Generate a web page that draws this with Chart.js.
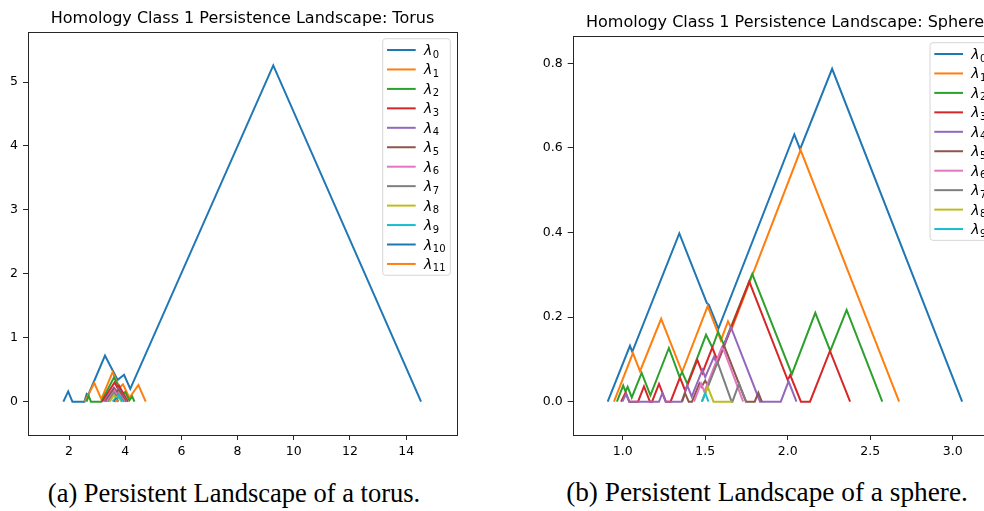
<!DOCTYPE html>
<html>
<head>
<meta charset="utf-8">
<script src="https://cdn.jsdelivr.net/npm/chart.js@4.4.1/dist/chart.umd.min.js"></script>
<style>
  body { margin: 0; width: 984px; height: 511px; overflow: hidden; background: #fff; position: relative; }
  #caixa_toro { position: absolute; left: 0; top: 0; }
  #caixa_esfera { position: absolute; left: 530px; top: 0; }
  .legenda { position: absolute; top: 478px; font-family: 'Liberation Serif', serif; font-size: 26.5px; color: #000; white-space: nowrap; transform: translateX(-50%); }
</style>
</head>
<body>
<div id="caixa_toro"><canvas id="chart_toro" width="470" height="470"></canvas></div>
<div id="caixa_esfera"><canvas id="chart_esfera" width="481" height="470"></canvas></div>
<div class="legenda" style="left:234px">(a) Persistent Landscape of a torus.</div>
<div class="legenda" style="left:767px; font-size:27.3px; top:477px">(b) Persistent Landscape of a sphere.</div>

<script>
// Ticks e limites dos eixos
const toroTicksX = [2, 4, 6, 8, 10, 12, 14];
const toroTicksY = [0, 1, 2, 3, 4, 5];
const toroLimX = [0.54, 15.81];
const toroLimY = [-0.522, 5.783];

const esferaTicksX = [1.0, 1.5, 2.0, 2.5, 3.0];
const esferaTicksY = [0.0, 0.2, 0.4, 0.6, 0.8];
const esferaLimX = [0.697, 3.27];
const esferaLimY = [-0.0788, 0.8646];

// Landscapes do toro: pares [x, y]
const toroL0 = [[1.8,0],[1.97,0.16],[2.12,0],[2.55,0],[2.63,0.12],[2.68,0.1],[3.28,0.72],[3.73,0.34],[3.96,0.42],[4.18,0.2],[9.27,5.26],[14.53,0]];
const toroL1 = [[2.56,0],[2.9,0.29],[3.15,0.04],[3.55,0.46],[3.8,0.22],[3.92,0.27],[4.15,0.06],[4.47,0.26],[4.73,0]];
const toroL2 = [[2.62,0],[2.7,0.09],[2.78,0],[3.15,0],[3.6,0.38],[3.9,0.12],[4.0,0.15],[4.15,0.02],[4.25,0.08],[4.33,0]];
const toroL3 = [[3.18,0],[3.62,0.3],[3.72,0.22],[3.78,0.25],[4.1,0]];
const toroL4 = [[3.25,0],[3.6,0.22],[3.7,0.16],[3.75,0.2],[4.05,0]];
const toroL5 = [[3.3,0],[3.6,0.2],[3.7,0.14],[3.77,0.18],[4.02,0]];
const toroL6 = [[3.35,0],[3.62,0.17],[3.7,0.1],[3.76,0.14],[3.98,0]];
const toroL7 = [[3.4,0],[3.6,0.14],[3.68,0.08],[3.75,0.12],[3.95,0]];
const toroL8 = [[3.45,0],[3.6,0.1],[3.67,0.05],[3.73,0.08],[3.88,0]];
const toroL9 = [[3.55,0],[3.65,0.05],[3.7,0.02],[3.77,0.1],[3.9,0]];
const toroL10 = [[3.6,0],[3.68,0.04],[3.76,0]];
const toroL11 = [[3.64,0],[3.7,0.02],[3.75,0]];

// Landscapes da esfera: pares [x, y]
const esferaL0 = [[0.909,0],[1.044,0.132],[1.058,0.118],[1.343,0.398],[1.51,0.233],[1.522,0.229],[1.58,0.173],[2.04,0.632],[2.075,0.597],[2.269,0.787],[3.057,0]];
const esferaL1 = [[0.947,0],[1.062,0.115],[1.105,0.072],[1.233,0.196],[1.36,0.07],[1.515,0.226],[1.595,0.145],[1.638,0.19],[1.66,0.172],[2.078,0.595],[2.675,0]];
const esferaL2 = [[0.965,0],[1.003,0.038],[1.017,0.024],[1.03,0.035],[1.055,0.01],[1.115,0.068],[1.168,0.015],[1.28,0.127],[1.345,0.058],[1.36,0.07],[1.392,0.042],[1.505,0.158],[1.543,0.128],[1.578,0.165],[1.613,0.135],[1.785,0.302],[2.025,0.065],[2.167,0.21],[2.258,0.12],[2.357,0.217],[2.573,0]];
const esferaL3 = [[0.99,0],[1.018,0.022],[1.04,0],[1.093,0],[1.129,0.036],[1.165,0],[1.178,0],[1.22,0.042],[1.262,0],[1.29,0],[1.347,0.057],[1.379,0.026],[1.452,0.099],[1.483,0.068],[1.543,0.128],[1.577,0.094],[1.767,0.284],[2.0,0.051],[2.015,0.063],[2.08,0],[2.135,0],[2.256,0.12],[2.378,0]];
const esferaL4 = [[0.998,0],[1.02,0.018],[1.04,0],[1.22,0],[1.24,0.02],[1.26,0],[1.357,0],[1.392,0.038],[1.418,0.012],[1.483,0.075],[1.5,0.058],[1.553,0.106],[1.57,0.09],[1.656,0.176],[1.832,0],[1.958,0],[2.005,0.048],[2.053,0]];
const esferaL5 = [[1.36,0],[1.378,0.02],[1.4,0],[1.42,0],[1.465,0.043],[1.478,0.035],[1.5,0.05],[1.515,0.038],[1.612,0.135],[1.747,0],[1.8,0],[1.822,0.021],[1.843,0]];
const esferaL6 = [[1.432,0],[1.475,0.043],[1.495,0.023],[1.6,0.128],[1.615,0.12],[1.73,0]];
const esferaL7 = [[1.48,0],[1.575,0.093],[1.66,0],[1.665,0],[1.705,0.043],[1.748,0]];
const esferaL8 = [[1.48,0],[1.515,0.035],[1.55,0],[1.665,0]];
const esferaL9 = [[1.48,0],[1.5,0.02],[1.52,0]];

const toroSeries = [toroL0, toroL1, toroL2, toroL3, toroL4, toroL5, toroL6, toroL7, toroL8, toroL9, toroL10, toroL11];
const esferaSeries = [esferaL0, esferaL1, esferaL2, esferaL3, esferaL4, esferaL5, esferaL6, esferaL7, esferaL8, esferaL9];

// cores padrão do matplotlib (tab10)
const cores = ['#1f77b4', '#ff7f0e', '#2ca02c', '#d62728', '#9467bd', '#8c564b', '#e377c2', '#7f7f7f', '#bcbd22', '#17becf'];

Chart.defaults.font.family = '"DejaVu Sans", sans-serif';
Chart.defaults.color = '#000';

// moldura preta em volta da área do gráfico (os 4 lados)
const molduraEixos = {
  id: 'molduraEixos',
  afterDatasetsDraw(chart) {
    const a = chart.chartArea;
    const ctx = chart.ctx;
    ctx.save();
    ctx.strokeStyle = '#262626';
    ctx.lineWidth = 1;
    ctx.strokeRect(Math.round(a.left) + 0.5, Math.round(a.top) + 0.5, Math.round(a.right - a.left), Math.round(a.bottom - a.top));
    ctx.restore();
  }
};

// legenda no canto superior direito, com lambda e subscrito
const legendaLambda = {
  id: 'legendaLambda',
  afterDraw(chart, args, opts) {
    const ctx = chart.ctx;
    const a = chart.chartArea;
    const sets = chart.data.datasets;
    const passo = 19.45;
    const larg = opts.largura;
    const alt = 22.6 + (sets.length - 1) * passo;
    const x0 = a.right - 6.7 - larg;
    const y0 = a.top + 6.7;

    ctx.save();
    ctx.beginPath();
    ctx.roundRect(x0, y0, larg, alt, 3);
    ctx.fillStyle = 'rgba(255,255,255,0.8)';
    ctx.fill();
    ctx.strokeStyle = '#d6d6d6';
    ctx.lineWidth = 1;
    ctx.stroke();

    sets.forEach(function (ds, i) {
      const y = y0 + 11.3 + i * passo;
      ctx.strokeStyle = ds.borderColor;
      ctx.lineWidth = 2;
      ctx.beginPath();
      ctx.moveTo(x0 + 4.3, y);
      ctx.lineTo(x0 + 33, y);
      ctx.stroke();

      ctx.fillStyle = '#000';
      ctx.textBaseline = 'alphabetic';
      ctx.textAlign = 'left';
      ctx.font = 'italic 14px "DejaVu Sans"';
      ctx.fillText(ds.label.charAt(0), x0 + 41.3, y + 5);
      const w = ctx.measureText(ds.label.charAt(0)).width;
      ctx.font = '10px "DejaVu Sans"';
      ctx.fillText(ds.label.slice(1), x0 + 41.3 + w + 0.5, y + 7.5);
    });
    ctx.restore();
  }
};

function montarDatasets(series) {
  return series.map(function (s, i) {
    return {
      label: 'λ' + i,
      data: s.map(function (p) { return { x: p[0], y: p[1] }; }),
      borderColor: cores[i % cores.length],
      borderWidth: 2,
      pointRadius: 0,
      tension: 0,
      fill: false,
      order: -i // matplotlib desenha as últimas curvas por cima
    };
  });
}

function montarGrafico(idCanvas, series, titulo, opcoes) {
  return new Chart(document.getElementById(idCanvas), {
    type: 'line',
    data: { datasets: montarDatasets(series) },
    plugins: [molduraEixos, legendaLambda],
    options: {
      responsive: false,
      animation: false,
      events: [],
      layout: { padding: { left: 0, right: opcoes.dir, top: 0, bottom: 0 } },
      plugins: {
        legend: { display: false },
        tooltip: { enabled: false },
        title: {
          display: true,
          text: titulo,
          fullSize: false,
          color: '#000',
          font: { size: 16, weight: 'normal' },
          padding: { top: opcoes.tituloTopo, bottom: 3.6 }
        },
        legendaLambda: { largura: opcoes.largLegenda }
      },
      scales: {
        x: {
          type: 'linear',
          min: opcoes.limX[0],
          max: opcoes.limX[1],
          afterBuildTicks: function (s) { s.ticks = opcoes.ticksX.map(function (v) { return { value: v }; }); },
          afterFit: function (s) { s.height = 35; },
          ticks: {
            font: { size: 12.5 },
            color: '#000',
            padding: 4,
            maxRotation: 0,
            callback: function (v) { return opcoes.casas ? v.toFixed(opcoes.casas) : String(v); }
          },
          grid: { drawOnChartArea: false, drawTicks: true, tickLength: 5, color: '#262626' },
          border: { display: false }
        },
        y: {
          type: 'linear',
          min: opcoes.limY[0],
          max: opcoes.limY[1],
          afterBuildTicks: function (s) { s.ticks = opcoes.ticksY.map(function (v) { return { value: v }; }); },
          afterFit: function (s) { s.width = opcoes.larguraY; },
          ticks: {
            font: { size: 12.5 },
            color: '#000',
            padding: 5,
            callback: function (v) { return opcoes.casas ? v.toFixed(opcoes.casas) : String(v); }
          },
          grid: { drawOnChartArea: false, drawTicks: true, tickLength: 5, color: '#262626' },
          border: { display: false }
        }
      }
    }
  });
}

montarGrafico('chart_toro', toroSeries, 'Homology Class 1 Persistence Landscape: Torus', {
  limX: toroLimX, limY: toroLimY, ticksX: toroTicksX, ticksY: toroTicksY,
  casas: 0, larguraY: 28, dir: 13, tituloTopo: 9.2, largLegenda: 67.6
});

montarGrafico('chart_esfera', esferaSeries, 'Homology Class 1 Persistence Landscape: Sphere', {
  limX: esferaLimX, limY: esferaLimY, ticksX: esferaTicksX, ticksY: esferaTicksY,
  casas: 1, larguraY: 42.7, dir: 13.7, tituloTopo: 13.2, largLegenda: 60.6
});
</script>
</body>
</html>
